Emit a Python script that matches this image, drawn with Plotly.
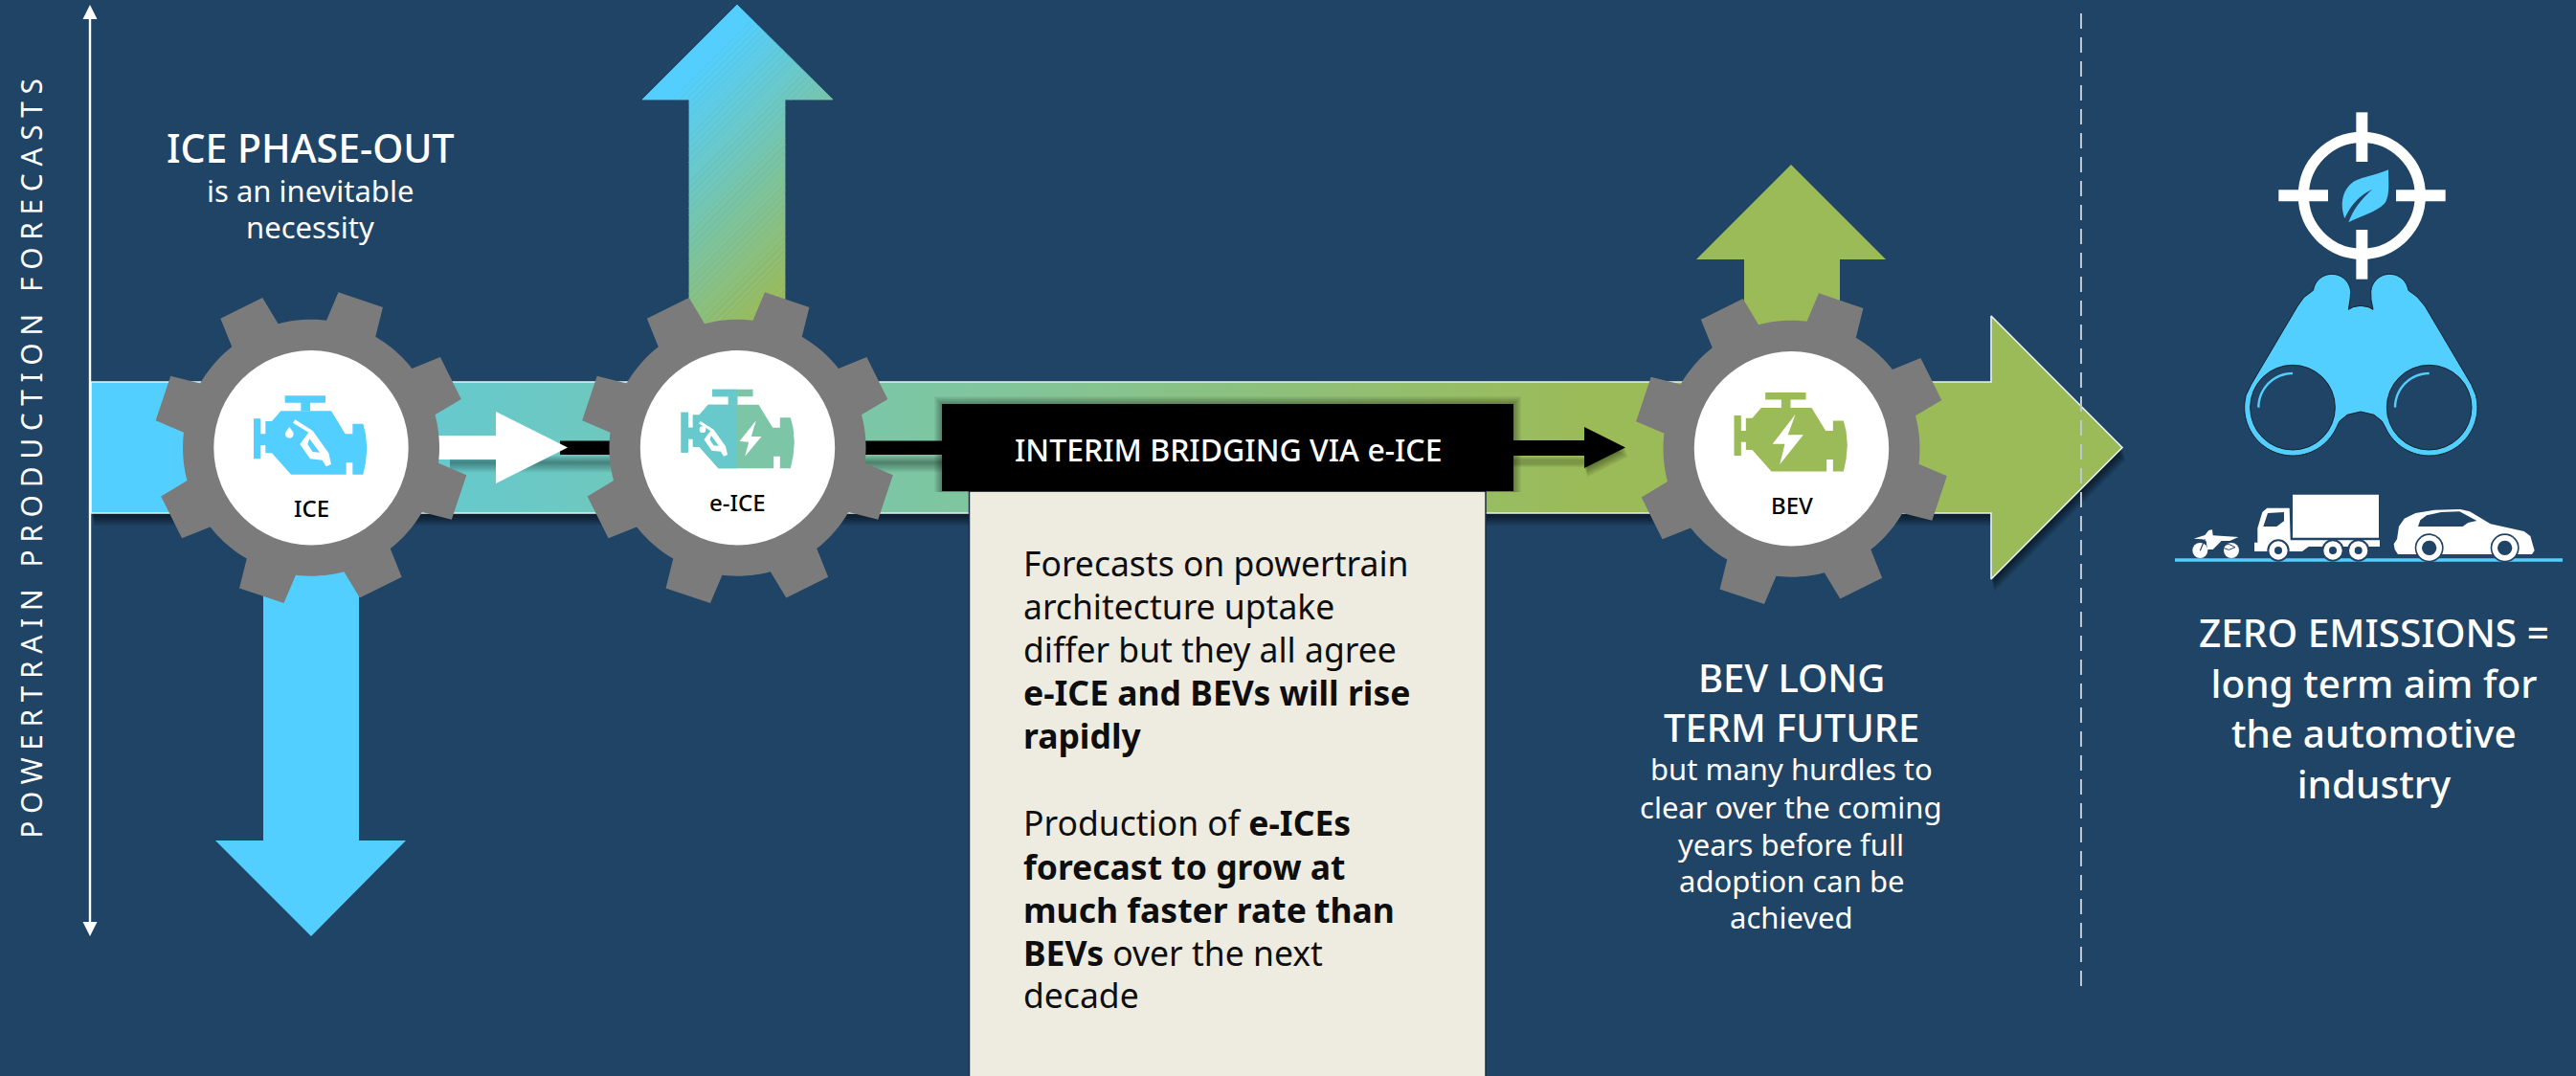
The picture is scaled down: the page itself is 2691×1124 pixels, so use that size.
import math
import plotly.graph_objects as go

# ---------- palette ----------
BG = "#204466"
BLUE = "#53CFFF"
GREEN = "#9BBB59"
TEAL = "#67C9CB"
SEAFOAM = "#7CC5A6"
GEAR = "#7B7B7B"
BEIGE = "#EEECE1"

# ---------- content ----------
axis_title = "POWERTRAIN PRODUCTION FORECASTS"
gear_labels = ["ICE", "e-ICE", "BEV"]
gear_x = [325, 770.5, 1871.5]
gear_y = [467.7, 467.7, 468.7]
label_y = [530, 524, 527]
icon_dy = [0, -6.5, -4.3]
ice_head = "ICE PHASE-OUT"
ice_sub = ["is an inevitable", "necessity"]
bridge_title = "INTERIM BRIDGING VIA e-ICE"
body_lines = [
    "Forecasts on powertrain", "architecture uptake", "differ but they all agree",
    "<b>e-ICE and BEVs will rise</b>", "<b>rapidly</b>", None,
    "Production of <b>e-ICEs</b>", "<b>forecast to grow at</b>",
    "<b>much faster rate than</b>", "<b>BEVs</b> over the next", "decade",
]
body_y = [588, 633, 678, 723, 768, None, 859, 905, 950, 995, 1039]
bev_head = ["BEV LONG", "TERM FUTURE"]
bev_head_mid_y = 733
bev_sub = ["but many hurdles to", "clear over the coming", "years before full",
           "adoption can be", "achieved"]
bev_sub_y = [803, 843, 882, 920, 958]
zero_lines = ["ZERO EMISSIONS =", "long term aim for", "the automotive", "industry"]
zero_mid_y = 739.5
main_stops = [[0, BLUE], [0.035, BLUE], [0.18, "#67C9CB"], [0.425, "#7FC6A0"], [0.73, GREEN], [1, GREEN]]

FONT = "Noto Sans"
shapes, annos = [], []


def path(pts):
    return "M" + "L".join(f"{x:.2f},{y:.2f}" for x, y in pts) + "Z"


def add(pts, fill, line=None, lw=0, **kw):
    shapes.append(dict(type="path", path=path(pts), fillcolor=fill, layer="above",
                       line=dict(color=line or "rgba(0,0,0,0)", width=lw), **kw))


def rect(x0, y0, x1, y1, fill, line=None, lw=0):
    add([(x0, y0), (x1, y0), (x1, y1), (x0, y1)], fill, line, lw)


def circle(cx, cy, r, fill, line=None, lw=0):
    shapes.append(dict(type="circle", x0=cx - r, x1=cx + r, y0=cy - r, y1=cy + r, fillcolor=fill,
                       layer="above", line=dict(color=line or "rgba(0,0,0,0)", width=lw)))


def stroke(pts, color, lw, dash="solid"):
    shapes.append(dict(type="path", path="M" + "L".join(f"{x:.2f},{y:.2f}" for x, y in pts),
                       layer="above", line=dict(color=color, width=lw, dash=dash)))


def arc(cx, cy, r, a0, a1, n=40):
    return [(cx + r * math.cos(math.radians(a0 + (a1 - a0) * i / n)),
             cy + r * math.sin(math.radians(a0 + (a1 - a0) * i / n))) for i in range(n + 1)]


def bez(p0, p1, p2, p3, n=12):
    out = []
    for i in range(n + 1):
        t = i / n
        u = 1 - t
        out.append((u**3 * p0[0] + 3 * u * u * t * p1[0] + 3 * u * t * t * p2[0] + t**3 * p3[0],
                    u**3 * p0[1] + 3 * u * u * t * p1[1] + 3 * u * t * t * p2[1] + t**3 * p3[1]))
    return out


def text(x, y, s, size, color="white", anchor="center", weight=None, **kw):
    font = dict(family=FONT, size=size, color=color)
    if weight:
        font["weight"] = weight
    annos.append(dict(x=x, y=y, text=s, showarrow=False, xanchor=anchor, yanchor="middle",
                      font=font, **kw))


def clip(poly, nx, ny, d, keep_greater=True):
    """Keep the part of a convex polygon on one side of the line nx*x+ny*y=d."""
    sgn = 1 if keep_greater else -1
    out = []
    for i, p in enumerate(poly):
        q = poly[(i + 1) % len(poly)]
        fp = sgn * (nx * p[0] + ny * p[1] - d)
        fq = sgn * (nx * q[0] + ny * q[1] - d)
        if fp >= 0:
            out.append(p)
        if fp * fq < 0:
            t = fp / (fp - fq)
            out.append((p[0] + t * (q[0] - p[0]), p[1] + t * (q[1] - p[1])))
    return out


def rgb(h):
    return tuple(int(h[i:i + 2], 16) for i in (1, 3, 5))


fig = go.Figure()

# ---------- main arrow ----------
main = [(95, 399), (2080, 399), (2080, 330), (2217, 467.5), (2080, 605), (2080, 536), (95, 536)]
for k in range(1, 11):
    fig.add_trace(go.Scatter(x=[p[0] + k * 0.35 for p in main] + [main[0][0] + k * .35],
                             y=[p[1] + k * 1.3 for p in main] + [main[0][1] + k * 1.3],
                             mode="lines", fill="toself", fillcolor="rgba(0,0,0,0.075)",
                             line=dict(width=0), hoverinfo="skip"))
fig.add_trace(go.Scatter(x=[p[0] for p in main] + [main[0][0]], y=[p[1] for p in main] + [main[0][1]],
                         mode="lines", fill="toself",
                         fillgradient=dict(type="horizontal", colorscale=main_stops, start=95, stop=2217),
                         line=dict(color="#E8F2F2", width=1.6), hoverinfo="skip"))

# ---------- vertical arrows ----------
up_parts = [[(770, 5), (870, 104), (671, 104)], [(720, 104), (820, 104), (820, 400), (720, 400)]]
L = 233.0
N = 48
c0, c1 = rgb(BLUE), rgb(GREEN)
for part in up_parts:
    for i in range(N):
        t0, t1 = i / N, (i + 1) / N
        d = 0.7071 * (700 + 100)
        s0 = d + t0 * L if i else -1e5
        s1 = d + t1 * L if i < N - 1 else 1e5
        piece = clip(clip(part, .7071, .7071, s0, True), .7071, .7071, s1, False)
        if len(piece) >= 3:
            col = "rgb(%d,%d,%d)" % tuple(round(a + (b - a) * (t0 + t1) / 2) for a, b in zip(c0, c1))
            add(piece, col, col, 0.8)
add([(325, 978), (424, 878), (375, 878), (375, 560), (275, 560), (275, 878), (225, 878)], BLUE)
add([(1871, 172), (1970, 271), (1922, 271), (1922, 400), (1822, 400), (1822, 271), (1772, 271)], GREEN)

# ---------- connector ----------
for k in range(1, 9):
    rect(470, 475 + k, 984, 482 + k * 1.4, "rgba(0,0,0,0.05)")
    rect(1581, 476 + k, 1655, 480 + k, "rgba(0,0,0,0.05)")
    add([(1655 + k * .4, 446 + k * 1.2), (1698 + k * .4, 467.5 + k * 1.2), (1655 + k * .4, 489 + k * 1.2)],
        "rgba(0,0,0,0.05)")
rect(585, 460.5, 990, 475, "black")
rect(1575, 460, 1660, 476, "black")
add([(1655, 446), (1698, 467.5), (1655, 489)], "black")
add([(455, 455), (518, 455), (518, 430), (593, 467.5), (518, 505), (518, 480), (455, 480)], "white")

# ---------- gears ----------
R_BODY, R_TIP, HW_TIP, HW_BASE, ROT = 134, 163, 24.5, 27, 18.5


def gear_poly(cx, cy):
    pts = []
    for k in range(8):
        a = math.radians(ROT - 90 + 45 * k)
        ux, uy = math.cos(a), math.sin(a)
        vx, vy = -uy, ux
        rb = math.sqrt(R_BODY**2 - HW_BASE**2)
        pts += [(cx + ux * rb - vx * HW_BASE, cy + uy * rb - vy * HW_BASE),
                (cx + ux * R_TIP - vx * HW_TIP, cy + uy * R_TIP - vy * HW_TIP),
                (cx + ux * R_TIP + vx * HW_TIP, cy + uy * R_TIP + vy * HW_TIP),
                (cx + ux * rb + vx * HW_BASE, cy + uy * rb + vy * HW_BASE)]
        d0 = math.degrees(a) + math.degrees(math.asin(HW_BASE / R_BODY))
        d1 = math.degrees(a) + 45 - math.degrees(math.asin(HW_BASE / R_BODY))
        pts += arc(cx, cy, R_BODY, d0, d1, 10)[1:-1]
    return pts


# ---------- engine icon (drawn in 3x-crop units around the hub centre) ----------
ENGINE = [(340, 388), (498, 388), (542, 460), (565, 460), (565, 428), (598, 428), (606, 460), (610, 505),
          (606, 550), (598, 587), (565, 587), (565, 550), (545, 550), (545, 587), (372, 587), (312, 520),
          (292, 520), (292, 495), (277, 495), (277, 538), (255, 538), (255, 412), (277, 412), (277, 460),
          (292, 460), (292, 420), (312, 420)]
BAR = [(353, 340), (480, 340), (480, 362), (432, 362), (432, 388), (403, 388), (403, 362), (353, 362)]
NOZZLE = [(378, 425), (385, 415), (440, 450), (490, 520), (498, 555), (482, 562), (470, 542), (432, 538),
          (400, 492), (427, 455)]
NOZ_HOLE = [(430, 475), (462, 518), (440, 516), (424, 492)]
DROP = arc(367, 460, 13, -30, 210, 14) + [(367, 438)]
BOLT = [(548, 398), (526, 463), (571, 463), (502, 556), (517, 491), (481, 491)]
EBOLT = [(510, 418), (495, 468), (527, 468), (475, 530), (487, 485), (458, 483)]


def icon_pts(pts, i, dx=0.0):
    return [(gear_x[i] + (x - 435) / 3 + dx, gear_y[i] + (y - 503) / 3 + icon_dy[i]) for x, y in pts]


for i, (gx, gy) in enumerate(zip(gear_x, gear_y)):
    add(gear_poly(gx, gy), GEAR)
    circle(gx, gy, 101.7, "white")
    if i == 0:
        add(icon_pts(ENGINE, 0), BLUE)
        add(icon_pts(BAR, 0), BLUE)
        add(icon_pts(NOZZLE, 0), "white")
        add(icon_pts(NOZ_HOLE, 0), BLUE)
        add(icon_pts(DROP, 0), "white")
    elif i == 1:
        add(icon_pts(ENGINE, 1, 1), SEAFOAM)
        add(icon_pts(BAR, 1, 1), SEAFOAM)
        split = gx - 0.7
        add(clip(icon_pts(ENGINE, 1, 1), 1, 0, split, False), TEAL)
        add(clip(icon_pts(BAR, 1, 1), 1, 0, split, False), TEAL)
        # small nozzle and drop on the fuel half
        sm = [(gx + (x - 432) * 0.75 / 3 - 27, gy + (y - 490) * 0.75 / 3 - 9) for x, y in NOZZLE]
        add(sm, "white")
        sh = [(gx + (x - 432) * 0.75 / 3 - 27, gy + (y - 490) * 0.75 / 3 - 9) for x, y in NOZ_HOLE]
        add(sh, TEAL)
        circle(gx - 36.5, gy - 19, 3.4, "white")
        add([(gx + (x - 452) / 3, gy + (y - 503) / 3) for x, y in EBOLT], "white")
    else:
        add(icon_pts(ENGINE, 2), GREEN)
        add(icon_pts(BAR, 2), GREEN)
        add([(gx + (x - 536.5) / 2.8, gy + (y - 506) / 3) for x, y in BOLT], "white")
    text(gx, label_y[i], gear_labels[i], 24, "black", weight=500)

# ---------- beige panel and black bar ----------
rect(1012.5, 513, 1552, 1130, BEIGE, "#1B2F42", 1.5)
for k in range(1, 9):
    rect(984 - k, 422 - k, 1581 + k, 513 + 1, "rgba(0,0,0,0.045)")
rect(984, 422, 1581, 513, "black")
text(1283, 469, bridge_title, 32, weight=500)
for s, y in zip(body_lines, body_y):
    if s:
        text(1067, y, s, 35.5, "#0E0E0E", "left")

# ---------- axis ----------
stroke([(94, 16), (94, 966)], "white", 2.4)
add([(94, 5), (101.5, 20), (86.5, 20)], "white")
add([(94, 978), (101.5, 963), (86.5, 963)], "white")
text(32, 475, axis_title, 30, textangle=-90)

# ---------- separator ----------
stroke([(2174, 14), (2174, 1035)], "#BCC8D4", 2, "16px,9px")

# ---------- text blocks ----------
text(324, 154, ice_head, 41, weight=500)
text(324, 199, ice_sub[0], 31)
text(324, 237, ice_sub[1], 31)
text(1871, bev_head_mid_y, "<br>".join(bev_head), 40, weight=500)
for s, y in zip(bev_sub, bev_sub_y):
    text(1871, y, s, 31)
text(2480, zero_mid_y, "<br>".join(zero_lines), 40.5, weight=500)


# ---------- right-hand pictograms (3x-crop units) ----------
def Z(pts):
    return [(2240 + x / 3, 100 + y / 3) for x, y in pts]


def ZC(x, y, r, fill, line=None, lw=0):
    circle(2240 + x / 3, 100 + y / 3, r / 3, fill, line, lw)


# target
tx, ty = 682, 313
shapes.append(dict(type="circle", x0=2240 + (tx - 183) / 3, x1=2240 + (tx + 183) / 3,
                   y0=100 + (ty - 183) / 3, y1=100 + (ty + 183) / 3, layer="above",
                   fillcolor="rgba(0,0,0,0)", line=dict(color="white", width=11.2)))
for a, b in [(421, 576), (789, 944)]:
    add(Z([(a, 295), (b, 295), (b, 331), (a, 331)]), "white")
for a, b in [(52, 207), (420, 575)]:
    add(Z([(664, a), (700, a), (700, b), (664, b)]), "white")
leaf = (bez((765, 232), (720, 250), (680, 255), (655, 270)) +
        bez((655, 270), (620, 295), (612, 340), (628, 385))[1:] +
        bez((628, 385), (650, 335), (680, 310), (715, 293))[1:] +
        bez((715, 293), (680, 325), (655, 355), (640, 397))[1:] +
        bez((640, 397), (680, 375), (730, 365), (755, 335))[1:] +
        bez((755, 335), (770, 310), (765, 270), (765, 232))[1:-1])
add(Z(leaf), BLUE)

# binoculars
bino = (arc(588, 618, 59, -172, -2, 24) + [(645, 640), (640, 670), (655, 662), (678, 658), (702, 662), (717, 670),
                                           (711, 640)] +
        arc(769, 618, 59, -178, -8, 24) + [(855, 630), (880, 660), (1025, 905), (1040, 940)] +
        arc(893, 977, 151, -14, 155, 40) + [(745, 1020), (720, 1000), (678, 990), (636, 1000), (612, 1020)] +
        arc(465, 977, 151, 24.5, 194, 40) + [(318, 940), (335, 905), (480, 660), (500, 632)])
add(Z(bino), BLUE, "#14202B", 1)
for lx in (465, 893):
    ZC(lx, 977, 133, BG, "#14202B", 1)
    stroke(Z(arc(lx, 977, 107, -180, -90, 20)), BLUE, 2.4)

# ground
shapes.append(dict(type="line", x0=2272, x1=2677, y0=585, y1=585, layer="above",
                   line=dict(color=BLUE, width=3.6)))

# motorcycle
M = lambda p: [(x + 90, y + 1200) for x, y in p]
for wx in (85, 183):
    ZC(wx + 90, 225 + 1200, 24, "white")
add(Z(M([(65, 188), (100, 177), (112, 162), (123, 160), (125, 178), (205, 183), (178, 195), (152, 195),
         (125, 222), (108, 222), (104, 196), (92, 190)])), "white")
stroke(Z(M([(100, 190), (85, 226)])), BG, 1.2)
stroke(Z(M([(155, 210), (175, 205), (195, 215), (175, 223), (160, 218)])), BG, 1)

# truck
add(Z([(465, 1250), (735, 1250), (735, 1385), (465, 1385)]), "white")
add(Z([(355, 1355), (370, 1305), (385, 1292), (455, 1292), (458, 1393), (738, 1393), (738, 1413), (515, 1413),
       (495, 1428), (345, 1428), (345, 1400), (355, 1400)]), "white")
add(Z([(373, 1350), (387, 1308), (438, 1305), (438, 1333), (415, 1350)]), BG)
for wx in (420, 591, 671):
    ZC(wx, 1425, 35, BG)
    ZC(wx, 1425, 29, "white")
    ZC(wx, 1425, 12, BG)

# car
C = lambda p: [(x + 720, y + 1200) for x, y in p]
add(Z(C([(62, 205), (72, 190), (78, 150), (95, 125), (130, 108), (190, 98), (270, 96), (300, 103), (365, 142),
         (470, 165), (490, 180), (500, 215), (503, 225), (495, 237), (75, 237), (65, 222)])), "white")
add(Z(C([(138, 150), (145, 130), (165, 115), (210, 105), (268, 103), (322, 132), (295, 138), (278, 150)])), BG)
for wx in (173, 410):
    ZC(wx + 720, 1417, 45, BG)
    ZC(wx + 720, 1417, 40, "white")
    ZC(wx + 720, 1417, 23, BG)

fig.update_layout(
    width=2691, height=1124, margin=dict(l=0, r=0, t=0, b=0, pad=0), autosize=False,
    paper_bgcolor=BG, plot_bgcolor=BG, showlegend=False, shapes=shapes, annotations=annos,
    xaxis=dict(range=[0, 2691], visible=False, fixedrange=True),
    yaxis=dict(range=[1124, 0], visible=False, fixedrange=True),
)

post = """
document.body.style.margin='0';
document.querySelectorAll('.annotation-text').forEach(function(t){
  if(t.textContent.indexOf('POWERTRAIN')===0){t.style.letterSpacing='7.6px';}
});
"""
fig.write_html("out.html", post_script=post, config={"displayModeBar": False})
